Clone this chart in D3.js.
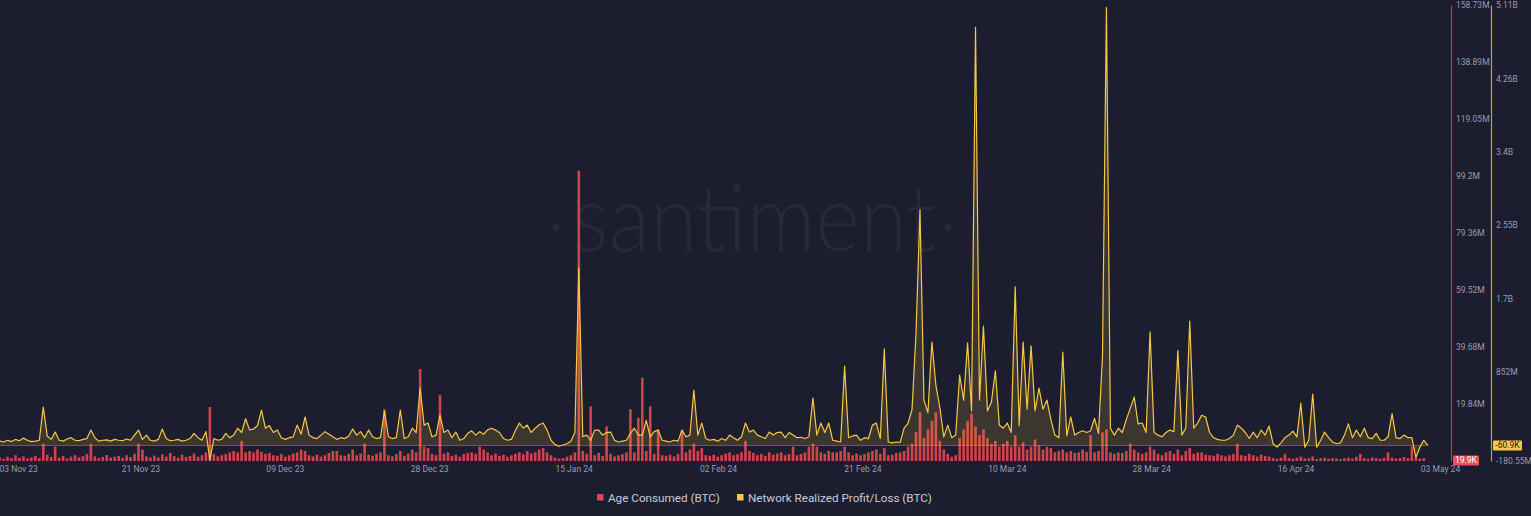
<!DOCTYPE html>
<html><head><meta charset="utf-8">
<script src="https://cdn.jsdelivr.net/npm/d3@7"></script>
<style>html,body{margin:0;padding:0;background:#1c1d2e;overflow:hidden}</style>
</head><body><svg id="c" width="1531" height="516"></svg>
<script>
// ---- data (12-hour samples) ----
const firstSample = "2023-11-03T23:00:00Z";
const sampleStepHours = 12;
// Network Realized Profit/Loss (BTC), millions
const profitLoss = [
50,40,60,45,70,55,85,60,45,50,
60,445,110,70,155,60,50,75,90,60,
55,70,80,178,90,50,60,65,50,70,
60,55,75,60,120,178,70,120,60,50,
70,190,80,55,60,70,50,60,80,140,
90,60,160,-170,80,60,70,140,90,120,
200,150,310,180,190,230,410,200,230,150,
180,90,70,90,100,236,130,330,120,90,
80,120,160,130,100,70,90,80,110,190,
120,160,90,180,100,80,90,400,100,80,
90,410,80,100,200,150,666,236,260,100,
120,352,150,178,90,155,60,80,140,170,
120,160,130,180,200,178,150,80,60,70,
170,260,200,236,150,200,240,260,178,60,
10,-10,5,20,50,150,2060,100,120,60,
178,178,120,150,155,60,40,50,60,140,
200,120,120,290,100,160,178,60,50,40,
60,50,178,100,120,643,120,260,80,60,
70,50,80,60,120,90,60,100,260,155,
178,120,100,80,155,120,150,155,90,150,
120,90,95,80,100,550,120,260,150,260,
60,50,40,920,90,110,120,60,90,80,
236,260,80,1120,40,30,40,35,200,260,
420,1300,2735,526,380,1200,700,440,100,236,
90,120,817,526,1190,400,4850,526,1386,400,
500,865,236,200,260,150,1840,230,1200,420,
1155,400,666,420,526,300,120,90,1084,110,
330,120,150,170,150,170,315,140,1026,5080,
200,120,200,150,300,430,560,250,260,150,
1317,150,120,100,150,178,160,1100,120,200,
1444,200,260,350,330,150,90,70,60,60,
80,120,236,200,150,80,155,90,178,120,
225,20,-20,30,90,120,165,100,490,-20,
60,595,-20,60,155,90,40,20,30,120,
250,90,178,100,200,90,80,140,60,60,
100,370,90,80,120,90,90,-140,-20,60,-0.0609
];
// Age Consumed (BTC), millions
const ageConsumed = [
1.2,0.8,1.5,1.0,2.0,1.1,1.6,0.9,1.3,1.8,
1.0,6.0,2.2,1.4,5.0,1.2,1.8,0.9,1.5,2.0,
1.3,1.7,2.4,6.0,1.6,1.0,1.4,2.1,1.2,1.5,
1.8,1.1,2.0,1.4,2.5,6.0,4.0,1.6,1.2,1.9,
1.3,2.3,1.5,2.8,1.7,1.1,2.2,1.4,1.8,2.6,
1.5,2.0,3.0,18.8,2.5,1.6,2.0,2.4,3.0,3.5,
3.0,7.0,3.0,3.5,3.0,4.0,3.2,2.5,2.8,2.0,
1.8,2.4,1.5,2.0,2.6,3.0,4.0,3.5,2.0,1.6,
2.2,1.5,2.0,2.8,3.5,3.5,2.0,1.8,2.5,4.0,
2.0,2.6,6.0,2.2,1.8,2.5,3.0,18.0,2.0,1.6,
2.4,3.5,1.8,2.6,4.0,3.0,32.0,5.0,4.5,2.5,
2.0,23.0,2.5,3.0,1.8,2.2,1.5,2.4,2.8,3.0,
2.5,5.0,4.0,3.0,2.0,2.6,1.8,2.2,1.5,2.0,
2.5,3.0,2.4,3.5,2.6,3.0,4.0,4.5,3.0,2.0,
1.2,0.8,1.0,1.5,2.0,3.0,101.0,3.5,2.5,19.0,
2.0,2.8,1.8,12.0,2.5,1.6,2.0,2.4,3.0,18.0,
3.0,15.0,29.0,3.5,19.0,2.5,11.0,2.0,1.8,2.2,
1.6,2.5,10.8,3.0,4.0,6.0,3.5,4.5,2.0,1.8,
2.2,1.5,2.0,2.6,3.0,2.0,2.4,3.0,7.0,3.5,
2.8,2.0,2.5,1.8,3.0,2.2,2.6,3.0,2.0,2.4,
5.0,2.0,2.5,3.0,5.0,6.0,5.0,3.0,2.5,3.5,
3.0,3.0,3.5,5.0,3.0,2.0,2.6,2.0,2.4,3.0,
3.5,4.0,2.5,4.5,2.0,2.2,2.8,3.0,3.5,5.0,
6.0,10.0,17.0,8.0,11.0,14.0,17.0,7.0,4.0,2.5,
1.5,2.0,8.0,11.0,14.0,16.5,12.0,9.0,11.0,8.0,
6.0,7.0,5.0,6.0,7.0,5.0,9.0,5.0,6.5,4.0,
5.0,7.5,5.5,4.0,5.0,4.5,3.0,3.5,4.0,3.0,
3.5,2.8,3.0,4.0,3.2,9.0,3.0,3.5,10.0,11.0,
3.0,2.5,3.0,2.8,3.5,6.0,4.0,3.0,2.5,3.0,
5.0,4.0,2.5,2.0,3.0,3.5,2.5,4.0,2.0,3.5,
4.5,2.5,3.0,3.0,2.2,2.0,1.8,2.5,2.0,1.6,
2.0,2.4,6.0,2.0,1.8,2.5,2.0,1.5,2.2,1.8,
1.5,1.0,0.8,1.2,2.5,1.0,0.8,1.1,1.5,0.9,
1.0,1.6,0.7,1.0,1.2,0.8,1.0,0.9,0.7,1.0,
1.2,0.9,1.5,2.5,1.0,0.8,1.2,1.0,0.8,1.1,
3.0,1.2,0.9,1.0,1.4,1.0,5.0,1.2,0.8,1.0,0.0199
];
const xDomain = ["2023-11-03T12:00:00Z", "2024-05-03T12:00:00Z"];
const xTickLabels = ["03 Nov 23","21 Nov 23","09 Dec 23","28 Dec 23","15 Jan 24","02 Feb 24","21 Feb 24","10 Mar 24","28 Mar 24","16 Apr 24","03 May 24"];
const ageDomain = [0, 158.73];
const ageTickValues = [19.84,39.68,59.52,79.36,99.2,119.05,138.89,158.73];
const ageTickLabels = ["19.84M","39.68M","59.52M","79.36M","99.2M","119.05M","138.89M","158.73M"];
const pnlDomain = [-180.55, 5110];
const pnlTickValues = [851.8,1703.7,2555.5,3407.4,4259.2,5110,-180.55];
const pnlTickLabels = ["852M","1.7B","2.55B","3.4B","4.26B","5.11B","-180.55M"];
const lastAgeLabel = "19.9K";
const lastPnlLabel = "-60.9K";
const seriesNames = ["Age Consumed (BTC)", "Network Realized Profit/Loss (BTC)"];

// ---- style ----
const BG = "#1c1d2e", RED = "#e0464f", YEL = "#f6c744", GRID_TXT = "#9a9caf";
const FONT = "Roboto, 'Liberation Sans', Arial, sans-serif";

const svg = d3.select("#c");
svg.append("rect").attr("width",1531).attr("height",516).attr("fill",BG);

// watermark
const wm = svg.append("g");
wm.append("text").attr("x",754).attr("y",251).attr("text-anchor","middle")
  .attr("font-family","Lato, 'Open Sans', sans-serif").attr("font-weight",300)
  .attr("font-size",92).attr("fill","#262939")
  .attr("textLength",364).attr("lengthAdjust","spacingAndGlyphs").text("santiment");
wm.append("circle").attr("cx",556).attr("cy",227).attr("r",3.5).attr("fill","#262939");
wm.append("circle").attr("cx",948).attr("cy",227).attr("r",3.5).attr("fill","#262939");

const t0 = new Date(xDomain[0]), t1 = new Date(xDomain[1]);
const x = d3.scaleUtc().domain([t0, t1]).range([-4, 1440]);
const yAge = d3.scaleLinear().domain(ageDomain).range([461, 5]);
const yPnl = d3.scaleLinear().domain(pnlDomain).range([461, 5]);

const start = new Date(firstSample);
const timeAt = i => new Date(+start + i*sampleStepHours*3600e3);
const pnl = profitLoss.map((v,i)=>({t:timeAt(i), v}));
const age = ageConsumed.map((v,i)=>({t:timeAt(i), v}));

// red bars
svg.append("g").selectAll("rect").data(age).join("rect")
  .attr("x", d => x(d.t) - 1.3).attr("width", 2.6)
  .attr("y", d => yAge(d.v)).attr("height", d => yAge(0) - yAge(d.v))
  .attr("fill", RED).attr("opacity", 0.92);

// yellow area + line
svg.append("path").datum(pnl)
  .attr("d", d3.area().x(d=>x(d.t)).y0(yPnl(0)).y1(d=>yPnl(d.v)))
  .attr("fill", YEL).attr("fill-opacity", 0.15);
svg.append("line").attr("x1", 0).attr("x2", x(pnl[pnl.length-1].t))
  .attr("y1", yPnl(0)).attr("y2", yPnl(0))
  .attr("stroke", YEL).attr("stroke-opacity", 0.35).attr("stroke-width", 1);
svg.append("path").datum(pnl)
  .attr("d", d3.line().x(d=>x(d.t)).y(d=>yPnl(d.v)))
  .attr("fill","none").attr("stroke", YEL).attr("stroke-width", 1.2)
  .attr("stroke-linejoin","round");

// x axis
const tickDates = d3.range(xTickLabels.length).map(k => new Date(+t0 + k*(t1 - t0)/(xTickLabels.length-1)));
const xa = svg.append("g").attr("transform","translate(0,462)")
  .call(d3.axisBottom(x).tickValues(tickDates).tickFormat((d,i)=>xTickLabels[i]).tickSize(0).tickPadding(4));
xa.select(".domain").remove();
xa.selectAll("text").attr("fill", GRID_TXT).attr("font-family", FONT).attr("font-size", 8.5);
xa.selectAll(".tick").filter((d,i)=>i===0).select("text").attr("text-anchor","start").attr("x",3);

// right axes
const ra = svg.append("g").attr("transform","translate(1451,0)")
  .call(d3.axisRight(yAge).tickValues(ageTickValues).tickFormat((d,i)=>ageTickLabels[i]).tickSize(0).tickPadding(5));
ra.select(".domain").attr("stroke","#b93b4e").attr("stroke-width",1.2);
ra.selectAll("text").attr("fill", GRID_TXT).attr("font-family", FONT).attr("font-size", 8.5);

const ya = svg.append("g").attr("transform","translate(1491,0)")
  .call(d3.axisRight(yPnl).tickValues(pnlTickValues).tickFormat((d,i)=>pnlTickLabels[i]).tickSize(0).tickPadding(5));
ya.select(".domain").attr("stroke","#b5a440").attr("stroke-width",1.2);
ya.selectAll("text").attr("fill", GRID_TXT).attr("font-family", FONT).attr("font-size", 8.5);

// last value badges
function badge(xl, yc, w, fill, txtFill, label){
  const g = svg.append("g");
  g.append("rect").attr("x",xl).attr("y",yc-5).attr("width",w).attr("height",10).attr("rx",1).attr("fill",fill);
  g.append("text").attr("x",xl+w/2).attr("y",yc).attr("dy","0.35em").attr("text-anchor","middle")
    .attr("font-family",FONT).attr("font-size",8.5).attr("fill",txtFill).text(label);
}
badge(1453, yAge(ageConsumed[ageConsumed.length-1]) - 0.5, 26, "#e8505c", "#ffffff", lastAgeLabel);
badge(1493, yPnl(profitLoss[profitLoss.length-1]), 29, "#f6c744", "#1c1d2e", lastPnlLabel);

// legend
const lg = svg.append("g").attr("font-family", FONT).attr("font-size", 11.7).attr("fill","#c9cbd6");
lg.append("rect").attr("x",597).attr("y",494).attr("width",6.5).attr("height",6.5).attr("fill",RED);
lg.append("text").attr("x",608).attr("y",501.5).text(seriesNames[0]);
lg.append("rect").attr("x",737).attr("y",494).attr("width",6.5).attr("height",6.5).attr("fill",YEL);
lg.append("text").attr("x",748).attr("y",501.5).text(seriesNames[1]);
</script></body></html>
